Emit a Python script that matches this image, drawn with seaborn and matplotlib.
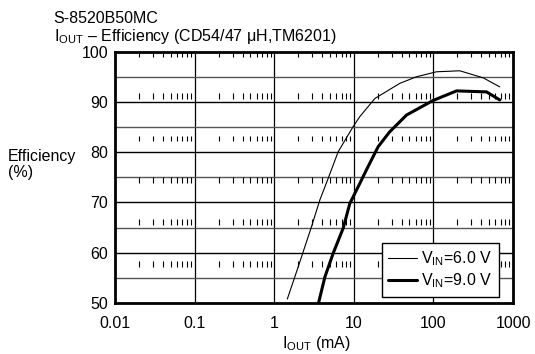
import numpy as np
import pandas as pd
import matplotlib
matplotlib.use("Agg")
import matplotlib.pyplot as plt
import seaborn as sns

# Efficiency curves (x in mA, y in %)
iout_6v = [1.46, 2.0, 2.94, 3.74, 4.76, 6.36, 9.8, 11.9, 18.4, 37.8, 61, 109, 214, 421, 681]
eff_6v = [50.8, 57.2, 65.2, 70.5, 74.8, 80.1, 85.1, 87.1, 90.7, 93.7, 95.0, 96.0, 96.2, 94.8, 93.0]

iout_9v = [3.6, 4.33, 5.5, 7.35, 8.9, 11.3, 14.4, 20.2, 28.0, 45.9, 99, 195, 464, 681]
eff_9v = [50.0, 55.2, 59.9, 64.9, 69.8, 73.1, 76.5, 81.1, 84.0, 87.4, 90.3, 92.2, 92.0, 90.4]

series_labels = ["V$_\\mathregular{IN}$=6.0 V", "V$_\\mathregular{IN}$=9.0 V"]

x_ticks = [0.01, 0.1, 1, 10, 100, 1000]
x_ticklabels = ["0.01", "0.1", "1", "10", "100", "1000"]
y_ticks = [50, 60, 70, 80, 90, 100]
y_grid = [55, 65, 75, 85, 95]
# rows where the minor x ticks are repeated inside the plot
tick_rows = [100, 91.7, 83.3, 75, 66.7, 58.3]

df = pd.concat([
    pd.DataFrame({"iout": iout_6v, "eff": eff_6v, "vin": series_labels[0]}),
    pd.DataFrame({"iout": iout_9v, "eff": eff_9v, "vin": series_labels[1]}),
])

sns.set_style("white")
plt.rcParams["font.family"] = ["Liberation Sans", "DejaVu Sans"]
plt.rcParams["mathtext.fontset"] = "custom"
plt.rcParams["mathtext.rm"] = "Liberation Sans"
plt.rcParams["text.color"] = "black"
plt.rcParams["xtick.color"] = "black"
plt.rcParams["ytick.color"] = "black"
plt.rcParams["xtick.labelcolor"] = "black"
plt.rcParams["ytick.labelcolor"] = "black"
fs = 11.5

fig = plt.figure(figsize=(5.35, 3.54), dpi=100)
ax = fig.add_axes([0.215, 0.144, 0.744, 0.710])

sns.lineplot(data=df, x="iout", y="eff", hue="vin", size="vin",
             sizes={series_labels[0]: 0.8, series_labels[1]: 2.2},
             palette={series_labels[0]: "black", series_labels[1]: "black"},
             estimator=None, sort=False, ax=ax, zorder=5)

ax.set_xscale("log")
ax.set_xlim(0.01, 1000)
ax.set_ylim(50, 100)

# grid
for d in x_ticks[1:-1]:
    ax.axvline(d, color="black", lw=0.9, zorder=1)
for g in y_ticks[1:-1]:
    ax.axhline(g, color="black", lw=1.0, zorder=1)
for g in y_grid:
    ax.axhline(g, color="#555555", lw=1.0, zorder=1)

# repeated minor ticks
minor_x = [m * d for d in x_ticks[:-1] for m in range(2, 10)]
for r in tick_rows:
    ax.vlines(minor_x, r - 1.1, r, color="black", lw=0.8, zorder=2)

ax.set_xticks(x_ticks)
ax.set_xticklabels(x_ticklabels)
ax.xaxis.set_minor_locator(matplotlib.ticker.NullLocator())
ax.set_yticks(y_ticks)
ax.tick_params(axis="x", direction="out", length=3, width=1, pad=6.5, labelsize=fs,
               colors="black")
ax.tick_params(axis="y", length=0, pad=5, labelsize=fs, colors="black")

for s in ax.spines.values():
    s.set_linewidth(2)
    s.set_color("black")

ax.set_xlabel("")
ax.set_ylabel("")

fig.text(0.591, 0.017, "I$_\\mathregular{OUT}$ (mA)", fontsize=fs, ha="center", va="baseline")
fig.text(0.015, 0.545, "Efficiency", fontsize=fs, va="baseline")
fig.text(0.015, 0.501, "(%)", fontsize=fs, va="baseline")
fig.text(0.1, 0.934, "S-8520B50MC", fontsize=fs, va="baseline")
fig.text(0.1, 0.884, "I$_\\mathregular{OUT}$ \u2013 Efficiency (CD54/47 \u03bcH,TM6201)",
         fontsize=fs, va="baseline")

leg = ax.legend(loc="lower right", bbox_to_anchor=(0.964, 0.025), frameon=True,
                fancybox=False, framealpha=1, edgecolor="black", fontsize=fs,
                handlelength=1.8, borderpad=0.4, labelspacing=0.2, handletextpad=0.25,
                borderaxespad=0)
leg.get_frame().set_linewidth(1)
leg.set_zorder(10)
for t in leg.get_texts():
    t.set_color("black")

fig.savefig("out.png", dpi=100)
